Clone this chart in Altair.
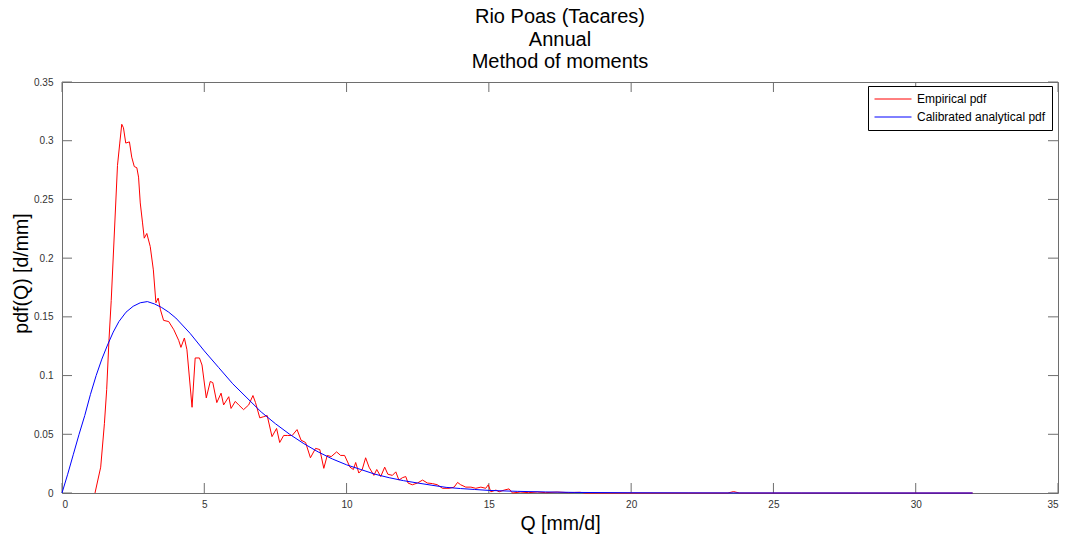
import altair as alt
import pandas as pd

# Empirical pdf (red)
emp_x = [1.16, 1.36, 1.49, 1.57, 1.65, 1.73, 1.95, 2.03, 2.10, 2.16, 2.24, 2.37, 2.45, 2.54, 2.63, 2.69,
         2.75, 2.83, 2.89, 2.98, 3.10, 3.21, 3.30, 3.38, 3.46, 3.57, 3.75, 3.93, 4.10, 4.18, 4.30, 4.39,
         4.57, 4.68, 4.83, 4.92, 5.07, 5.21, 5.30, 5.44, 5.59, 5.68, 5.86, 5.94, 6.09, 6.21, 6.38, 6.56,
         6.71, 6.80, 6.95, 7.09, 7.21, 7.38, 7.54, 7.65, 7.79, 7.93, 8.09, 8.26, 8.40, 8.56, 8.73, 8.91,
         9.06, 9.20, 9.32, 9.46, 9.65, 9.79, 9.93, 10.12, 10.24, 10.32, 10.43, 10.55, 10.67, 10.79, 10.96,
         11.06, 11.20, 11.34, 11.45, 11.61, 11.73, 11.84, 11.96, 12.08, 12.16, 12.31, 12.49, 12.67, 12.84,
         13.02, 13.19, 13.37, 13.60, 13.78, 13.90, 14.01, 14.19, 14.37, 14.54, 14.72, 14.89, 14.98, 15.07,
         15.25, 15.36, 15.54, 15.71, 15.83, 16.1, 16.4, 16.7, 17.0, 17.4, 17.8, 18.2, 18.4, 23.4, 23.6,
         23.8, 32.0]
emp_y = [0.0, 0.022, 0.059, 0.088, 0.130, 0.164, 0.279, 0.298, 0.314, 0.311, 0.298, 0.299, 0.286, 0.278,
         0.277, 0.269, 0.247, 0.230, 0.217, 0.221, 0.210, 0.190, 0.162, 0.166, 0.156, 0.147, 0.146, 0.139,
         0.130, 0.124, 0.132, 0.122, 0.073, 0.115, 0.115, 0.109, 0.081, 0.095, 0.094, 0.077, 0.085, 0.075,
         0.082, 0.072, 0.078, 0.075, 0.071, 0.075, 0.083, 0.077, 0.064, 0.065, 0.066, 0.048, 0.055, 0.043,
         0.049, 0.049, 0.049, 0.054, 0.045, 0.043, 0.030, 0.038, 0.037, 0.021, 0.032, 0.031, 0.035, 0.032,
         0.032, 0.022, 0.020, 0.026, 0.017, 0.020, 0.030, 0.022, 0.015, 0.020, 0.014, 0.022, 0.016, 0.015,
         0.018, 0.011, 0.013, 0.014, 0.0085, 0.007, 0.0085, 0.011, 0.0085, 0.008, 0.007, 0.004, 0.004,
         0.005, 0.009, 0.007, 0.005, 0.005, 0.004, 0.005, 0.004, 0.007, 0.001, 0.0025, 0.001, 0.0025,
         0.0035, 0.0, 0.0008, 0.0003, 0.0008, 0.0003, 0.0008, 0.0003, 0.0006, 0.0, 0.0, 0.0012, 0.0, 0.0]

# Calibrated analytical pdf (blue)
cal_x = [0, 0.2, 0.4, 0.6, 0.8, 1.0, 1.2, 1.4, 1.6, 1.8, 2.0, 2.25, 2.5, 2.75, 3.0, 3.25, 3.5, 3.75, 4.0,
         4.5, 5.0, 5.5, 6.0, 6.5, 7.0, 7.5, 8.0, 8.5, 9.0, 9.5, 10, 10.5, 11, 11.5, 12, 12.5, 13, 13.5, 14,
         14.5, 15, 16, 17, 18, 20, 22, 24, 26, 28, 30, 32]
cal_y = [0, 0.016, 0.033, 0.050, 0.066, 0.084, 0.100, 0.114, 0.126, 0.137, 0.146, 0.154, 0.159, 0.162,
         0.163, 0.161, 0.158, 0.154, 0.149, 0.136, 0.121, 0.107, 0.093, 0.081, 0.069, 0.059, 0.050, 0.042,
         0.035, 0.029, 0.024, 0.020, 0.016, 0.013, 0.0105, 0.0085, 0.0066, 0.0048, 0.0038, 0.0030, 0.0022,
         0.0014, 0.0009, 0.0005, 0.0002, 0.0001, 0.00004, 0.00002, 0.00001, 0.0, 0.0]

series_names = ["Empirical pdf", "Calibrated analytical pdf"]
series_colors = ["#ff0000", "#0000ff"]

x_ticks = [0, 5, 10, 15, 20, 25, 30, 35]
y_ticks = [0, 0.05, 0.1, 0.15, 0.2, 0.25, 0.3, 0.35]

title_lines = ["Rio Poas (Tacares)", "Annual", "Method of moments"]
x_title = "Q [mm/d]"
y_title = "pdf(Q) [d/mm]"

W, H = 996, 411
FONT = "Liberation Sans"
FRAME = "#6e6e6e"

df = pd.concat([
    pd.DataFrame({"Q": emp_x, "pdf": emp_y, "series": series_names[0]}),
    pd.DataFrame({"Q": cal_x, "pdf": cal_y, "series": series_names[1]}),
])
xt = pd.DataFrame({"Q": x_ticks})
yt = pd.DataFrame({"pdf": y_ticks})

xs = alt.Scale(domain=[0, 35], nice=False, zero=False)
ys = alt.Scale(domain=[0, 0.35], nice=False, zero=False)

xaxis = alt.Axis(values=x_ticks, format="d", grid=False, domain=False, ticks=False,
                 labelFontSize=10, labelFont=FONT, labelColor="#333", labelPadding=6,
                 titleFontSize=19.5, titleFont=FONT, titleFontWeight="normal", titleColor="#000",
                 titleY=30, titleBaseline="middle")
yaxis = alt.Axis(values=y_ticks, format="~g", grid=False, domain=False, ticks=False,
                 labelFontSize=10, labelFont=FONT, labelColor="#333", labelPadding=9,
                 titleFontSize=19.5, titleFont=FONT, titleFontWeight="normal", titleColor="#000",
                 titleX=-41, titleY=191, titleBaseline="middle", titleAlign="center", titleAngle=270)

color = alt.Color("series:N", scale=alt.Scale(domain=series_names, range=series_colors),
                  legend=alt.Legend(title=None, orient="none", legendX=806, legendY=4,
                                    fillColor="white", strokeColor="#000", padding=6,
                                    symbolType="stroke", symbolSize=1369, symbolStrokeWidth=1,
                                    clipHeight=14, symbolOffset=0, labelOffset=5, labelFontSize=12,
                                    labelFont=FONT, labelColor="#000", rowPadding=4))

base = alt.Chart(df)
red = base.transform_filter(alt.datum.series == series_names[0]).mark_line(strokeWidth=1).encode(
    x=alt.X("Q:Q", scale=xs, axis=xaxis, title=x_title),
    y=alt.Y("pdf:Q", scale=ys, axis=yaxis, title=y_title),
    color=color,
)
blue = base.transform_filter(alt.datum.series == series_names[1]).mark_line(strokeWidth=1).encode(
    x=alt.X("Q:Q", scale=xs, title=x_title),
    y=alt.Y("pdf:Q", scale=ys, title=y_title),
    color=color,
)

tick_style = dict(color=FRAME, strokeWidth=1)
bt = alt.Chart(xt).mark_rule(**tick_style).encode(
    x=alt.X("Q:Q", scale=xs, title=x_title), y=alt.value(H), y2=alt.value(H - 10))
tt = alt.Chart(xt).mark_rule(**tick_style).encode(
    x=alt.X("Q:Q", scale=xs, title=x_title), y=alt.value(0), y2=alt.value(10))
lt = alt.Chart(yt).mark_rule(**tick_style).encode(
    y=alt.Y("pdf:Q", scale=ys, title=y_title), x=alt.value(0), x2=alt.value(10))
rt = alt.Chart(yt).mark_rule(**tick_style).encode(
    y=alt.Y("pdf:Q", scale=ys, title=y_title), x=alt.value(W), x2=alt.value(W - 10))

chart = alt.layer(bt, tt, lt, rt, red, blue).properties(
    width=W, height=H,
    title=alt.TitleParams(text=title_lines, fontSize=20, font=FONT, fontWeight="normal",
                          color="#000", lineHeight=22.5, anchor="middle", frame="group", offset=5),
    autosize=alt.AutoSizeParams(type="none"),
    padding={"left": 62, "top": 82, "right": 9, "bottom": 46},
    background="white",
).configure_view(stroke=FRAME, strokeWidth=1)

chart.save("out.html", embed_options={"renderer": "svg", "actions": False})
